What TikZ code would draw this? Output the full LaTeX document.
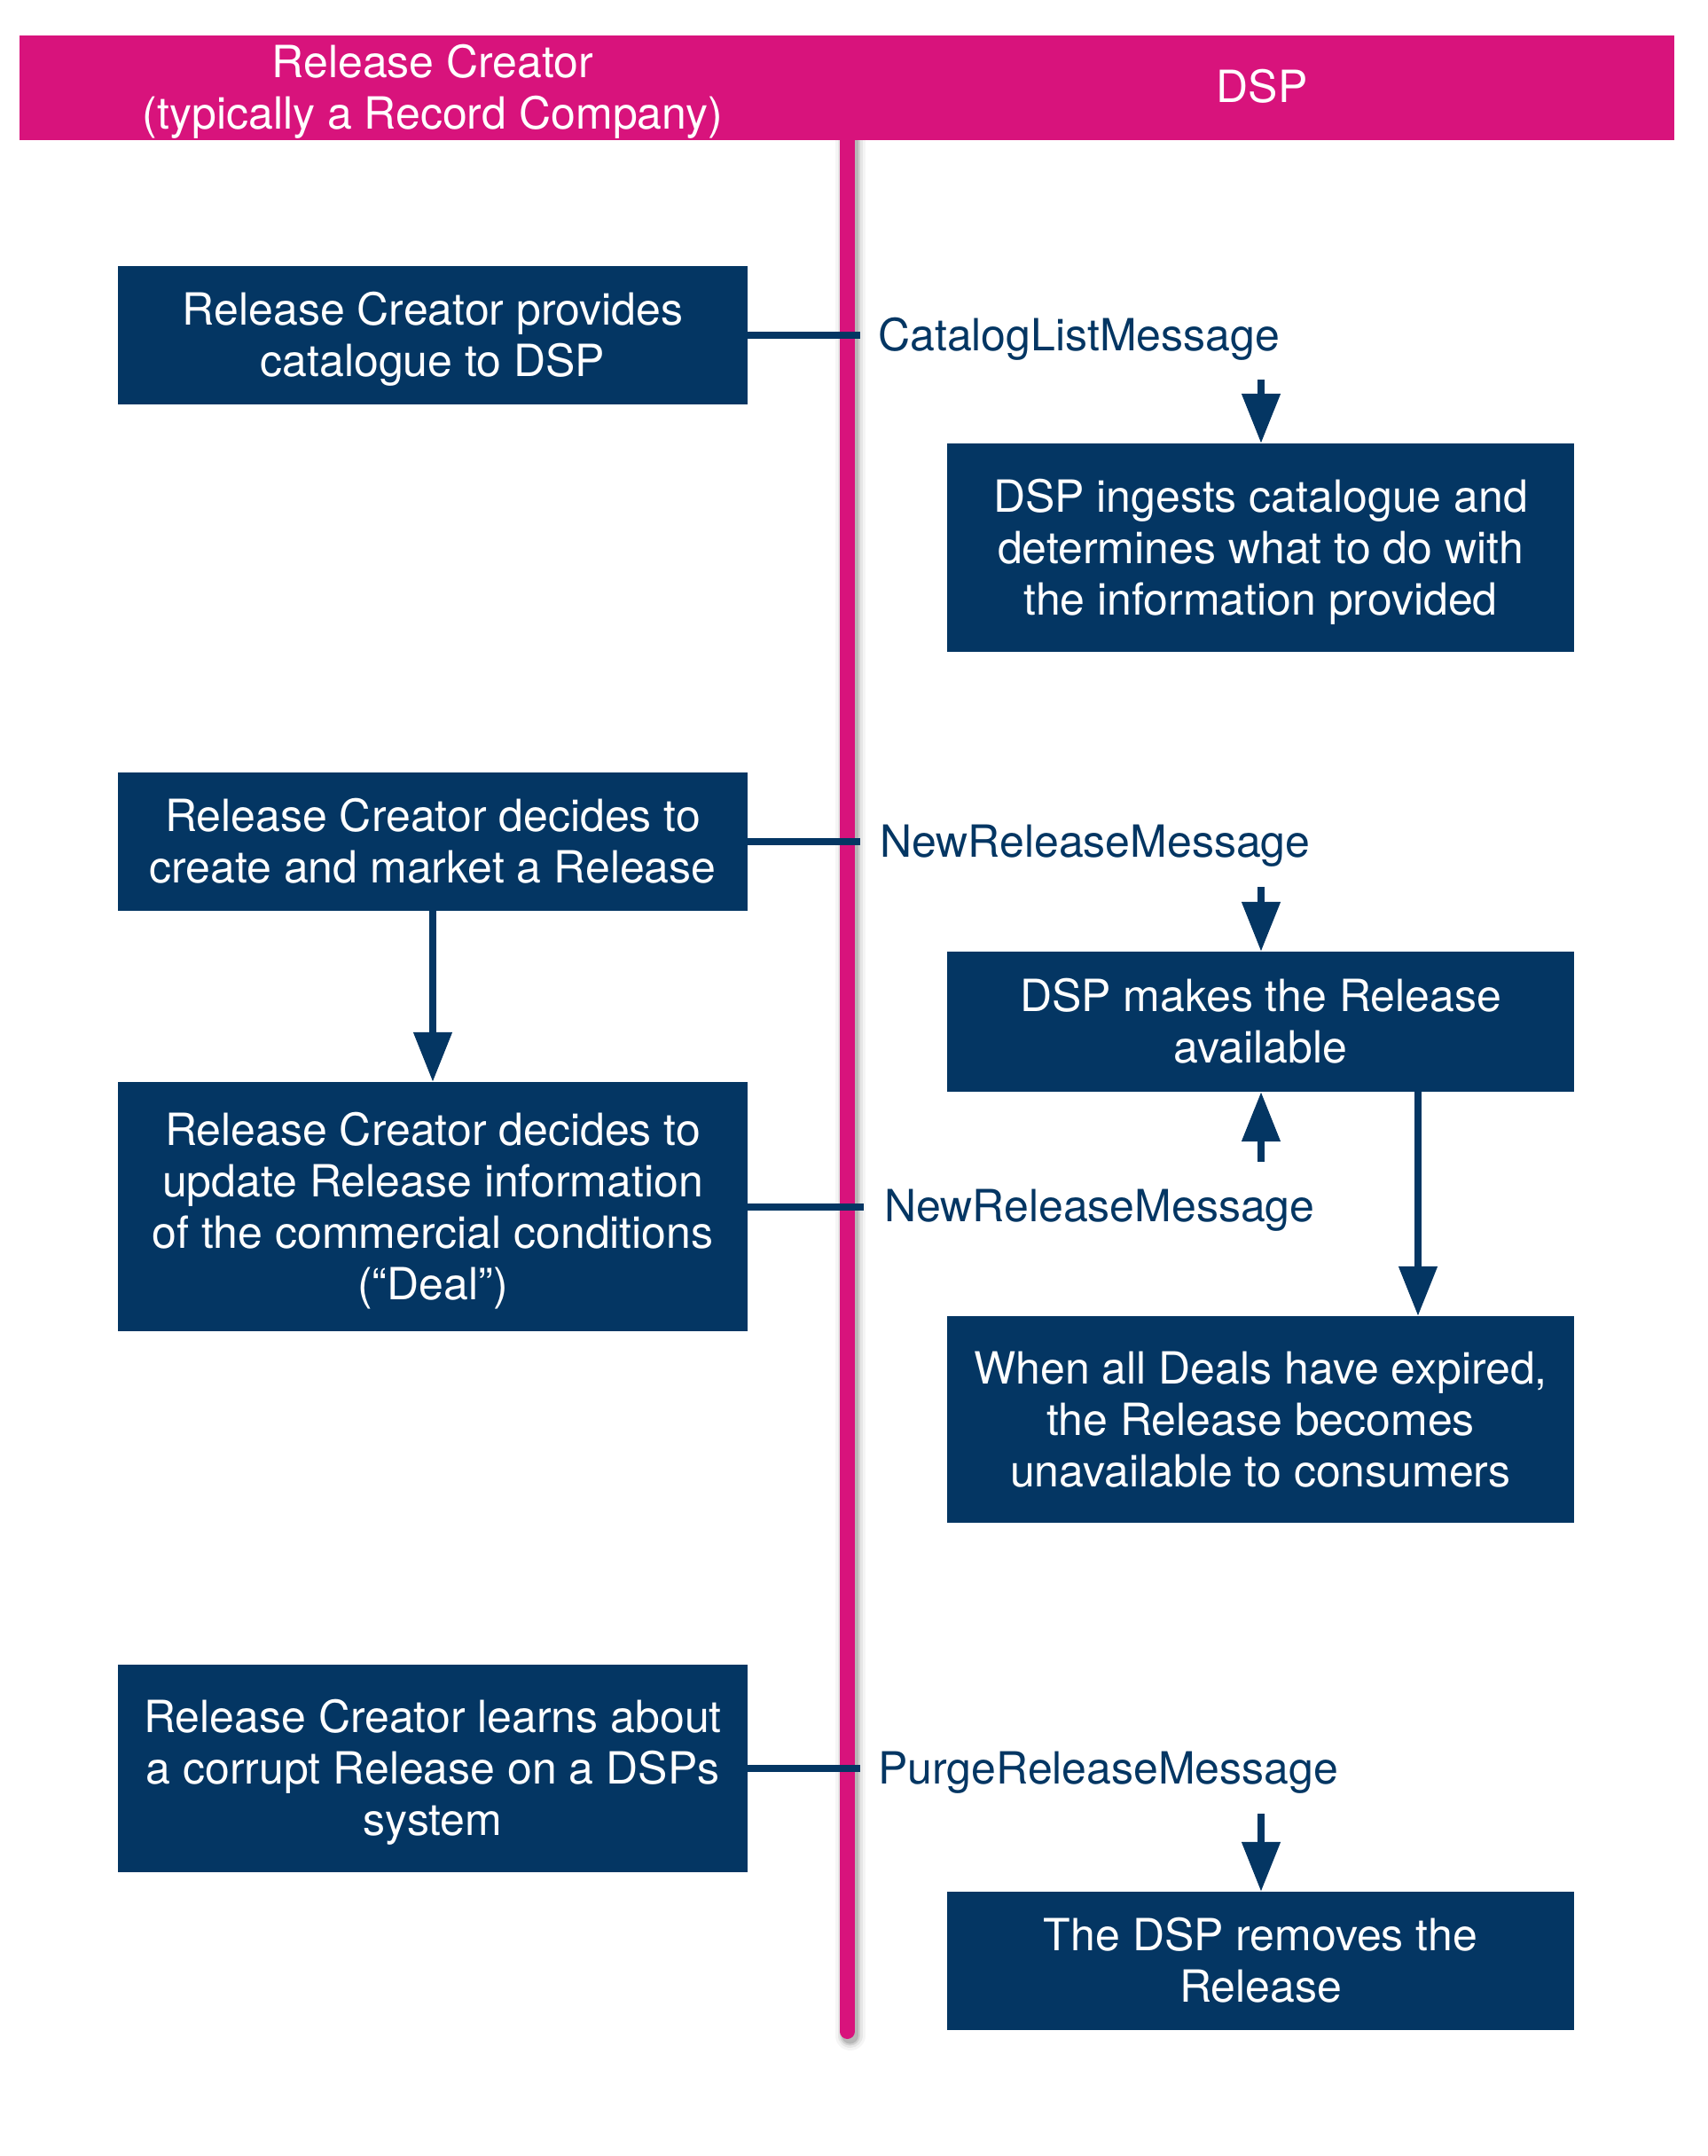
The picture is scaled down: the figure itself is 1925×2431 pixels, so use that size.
\documentclass[tikz,border=0pt]{standalone}
\usepackage{fontspec}
\setmainfont{TeX Gyre Heros}
\usetikzlibrary{arrows.meta}
\definecolor{navy}{RGB}{4,54,99}
\definecolor{lanepink}{RGB}{216,19,124}
\newcommand\topfix{\rule{0pt}{46pt}}
\newcommand\botfix{\rule[-11pt]{0pt}{11pt}}
\begin{document}
\begin{tikzpicture}[x=1pt,y=-1pt,
  box/.style={fill=navy, text=white, inner sep=0pt, align=center,
    font=\fontsize{50}{58}\selectfont},
  leftbox/.style={box, minimum width=710pt},
  rightbox/.style={box, minimum width=707pt},
  msg/.style={text=navy, anchor=base west, inner sep=0pt, font=\fontsize{50}{58}\selectfont},
  head/.style={text=white, inner sep=0pt, align=center, font=\fontsize{50}{58}\selectfont},
  link/.style={draw=navy, line width=8pt},
  arr/.style={link, -{Triangle[length=56pt,width=42pt]}},
]
\useasboundingbox (0,0) rectangle (1925,2431);
\fill[white] (0,0) rectangle (1925,2431);

% lane line with soft shadow
\foreach \w/\o in {34/0.04,28/0.06,23/0.09,19/0.12}{
  \draw[line width=\w pt, black, opacity=\o, line cap=round] (958.5,160) -- (958.5,2295);
}
\draw[line width=17pt, lanepink, line cap=round] (955.5,150) -- (955.5,2290.5);

% header
\fill[lanepink] (22,40) rectangle (1888,158);
\node[head] (hl) at (488,99) {\topfix Release Creator\\(typically a Record Company)};
\node[head] (hr) at (1423,97) {DSP};

% boxes
\node[leftbox, minimum height=156pt] (b1) at (488,378) {\topfix Release Creator provides\\catalogue to DSP\botfix};
\node[rightbox, minimum height=235pt] (b2) at (1421.5,617.5) {\topfix DSP ingests catalogue and\\determines what to do with\\the information provided\botfix};
\node[leftbox, minimum height=156pt] (b3) at (488,949) {\topfix Release Creator decides to\\create and market a Release\botfix};
\node[rightbox, minimum height=158pt] (b4) at (1421.5,1152) {\topfix DSP makes the Release\\available\botfix};
\node[leftbox, minimum height=281pt] (b5) at (488,1360.5) {\topfix Release Creator decides to\\update Release information\\of the commercial conditions\\(“Deal”)\botfix};
\node[rightbox, minimum height=233pt] (b6) at (1421.5,1600.5) {\topfix When all Deals have expired,\\the Release becomes\\unavailable to consumers\botfix};
\node[leftbox, minimum height=234pt] (b7) at (488,1994) {\topfix Release Creator learns about\\a corrupt Release on a DSPs\\system\botfix};
\node[rightbox, minimum height=156pt] (b8) at (1421.5,2211) {\topfix The DSP removes the\\Release\botfix};

% message labels
\node[msg] (l1) at (990,395) {CatalogListMessage};
\node[msg] (l2) at (992,966) {NewReleaseMessage};
\node[msg] (l3) at (997,1377.5) {NewReleaseMessage};
\node[msg] (l4) at (990,2011) {PurgeReleaseMessage};

% connector end points
\coordinate (e1) at (970,378);
\coordinate (e2) at (970,949);
\coordinate (e3) at (974,1360.5);
\coordinate (e4) at (970,1994);
\coordinate (s1) at (1422,428);
\coordinate (s2) at (1422,1000);
\coordinate (s3) at (1422,1310);
\coordinate (s4) at (1422,2045);
\coordinate (x4) at (1599,1152);

% message lines
\draw[link] (b1.east) -- (e1);
\draw[link] (b3.east) -- (e2);
\draw[link] (b5.east) -- (e3);
\draw[link] (b7.east) -- (e4);

% arrows
\draw[arr] (s1) -- (s1 |- b2.north);
\draw[arr] (s2) -- (s2 |- b4.north);
\draw[arr] (s3) -- (s3 |- b4.south);
\draw[arr] (x4 |- b4.south) -- (x4 |- b6.north);
\draw[arr] (b3.south) -- (b5.north);
\draw[arr] (s4) -- (s4 |- b8.north);
\end{tikzpicture}
\end{document}
